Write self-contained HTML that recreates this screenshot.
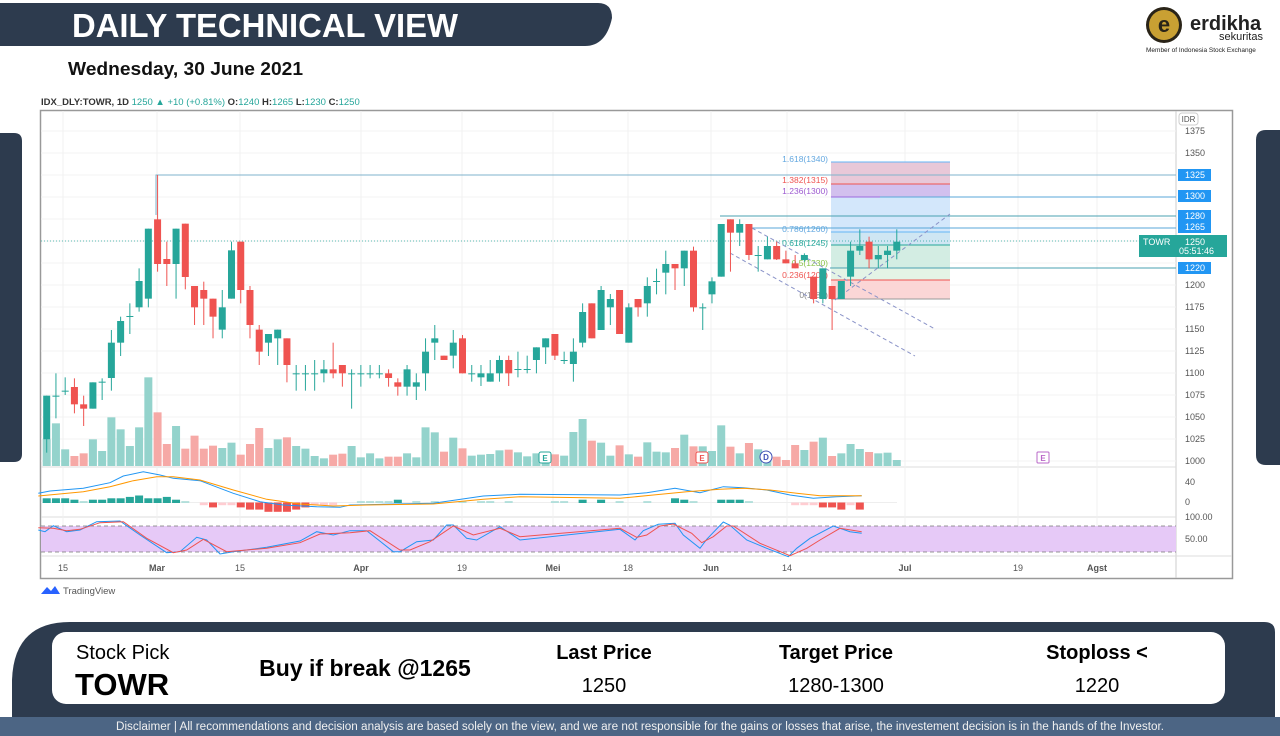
<!DOCTYPE html>
<html><head><meta charset="utf-8">
<style>
*{margin:0;padding:0;box-sizing:border-box}
body{width:1280px;height:736px;background:#fff;position:relative;overflow:hidden;font-family:"Liberation Sans",Arial,sans-serif}
.abs{position:absolute}
</style></head><body>
<svg class="abs" style="left:0;top:0" width="1280" height="736" id="s">
 <path d="M0 3 H598 Q612 3 612 18 Q606 46 585 46 H0 Z" fill="#2d3b4e"/>
 <text x="72" y="37" font-size="33" font-weight="bold" fill="#fff" font-family="Liberation Sans,Arial,sans-serif" textLength="386" lengthAdjust="spacingAndGlyphs">DAILY TECHNICAL VIEW</text>
 <text x="68" y="75" font-size="18" font-weight="bold" fill="#111" font-family="Liberation Sans,Arial,sans-serif" textLength="235" lengthAdjust="spacingAndGlyphs">Wednesday, 30 June 2021</text>
 <circle cx="1164" cy="25" r="18" fill="#2a2418"/>
 <circle cx="1164" cy="25" r="15" fill="#c9a033"/>
 <text x="1164" y="32" font-size="22" font-weight="bold" fill="#2a2418" text-anchor="middle" font-family="Liberation Sans,sans-serif">e</text>
 <text x="1190" y="30" font-size="20" font-weight="bold" fill="#222" font-family="Liberation Sans,sans-serif">erdikha</text>
 <text x="1263" y="40" font-size="11" fill="#222" text-anchor="end" font-family="Liberation Sans,sans-serif">sekuritas</text>
 <text x="1146" y="52" font-size="6.5" fill="#222" font-family="Liberation Sans,sans-serif">Member of Indonesia Stock Exchange</text>
 <path d="M0 133 H14 Q22 133 22 141 V454 Q22 462 14 462 H0Z" fill="#2d3b4e"/>
 <path d="M1280 130 H1266 Q1256 130 1256 140 V455 Q1256 465 1266 465 H1280Z" fill="#2d3b4e"/>
 <text x="41" y="105" font-size="9.5" font-family="Liberation Sans,sans-serif" fill="#333"><tspan font-weight="bold">IDX_DLY:TOWR, 1D</tspan> <tspan fill="#26a69a">1250 ▲ +10 (+0.81%)</tspan> <tspan font-weight="bold">O:</tspan><tspan fill="#26a69a">1240</tspan> <tspan font-weight="bold">H:</tspan><tspan fill="#26a69a">1265</tspan> <tspan font-weight="bold">L:</tspan><tspan fill="#26a69a">1230</tspan> <tspan font-weight="bold">C:</tspan><tspan fill="#26a69a">1250</tspan></text>
 <rect x="40.5" y="110.5" width="1192" height="468" fill="#fff" stroke="#999" stroke-width="1.5"/>
 <line x1="1176" y1="111" x2="1176" y2="578" stroke="#ccc"/>
 <line x1="41" y1="467" x2="1176" y2="467" stroke="#ddd"/>
 <line x1="41" y1="517" x2="1176" y2="517" stroke="#ddd"/>
 <line x1="41" y1="556" x2="1232" y2="556" stroke="#ddd"/>
 <g id="grid"></g>
 <rect x="831" y="162" width="119" height="22" fill="#e8c8d8"/>
 <rect x="831" y="184" width="119" height="13" fill="#d2c0ee"/>
 <rect x="831" y="197" width="119" height="35" fill="#d3e7fb"/>
 <rect x="831" y="232" width="119" height="13" fill="#cfe6f3"/>
 <rect x="831" y="245" width="119" height="23" fill="#d3ede3"/>
 <rect x="831" y="268" width="119" height="12" fill="#e4f4e6"/>
 <rect x="831" y="280" width="119" height="19" fill="#fbd6d6"/>
 <g stroke-width="1">
  <line x1="831" y1="162" x2="950" y2="162" stroke="#64b5f6"/>
  <line x1="831" y1="184" x2="950" y2="184" stroke="#ef5350"/>
  <line x1="831" y1="197" x2="950" y2="197" stroke="#9c6ade"/>
  <line x1="831" y1="232" x2="950" y2="232" stroke="#64b5f6"/>
  <line x1="831" y1="245" x2="950" y2="245" stroke="#26a69a"/>
  <line x1="831" y1="268" x2="950" y2="268" stroke="#66bb6a"/>
  <line x1="831" y1="280" x2="950" y2="280" stroke="#ef5350"/>
  <line x1="831" y1="299" x2="950" y2="299" stroke="#999"/>
 </g>
 <g font-size="8.5" font-family="Liberation Sans,sans-serif" text-anchor="end">
  <text x="828" y="162" fill="#64a8e0">1.618(1340)</text>
  <text x="828" y="183" fill="#ef5350">1.382(1315)</text>
  <text x="828" y="194" fill="#9c5ad0">1.236(1300)</text>
  <text x="828" y="232" fill="#64a8e0">0.786(1260)</text>
  <text x="828" y="246" fill="#26a69a">0.618(1245)</text>
  <text x="828" y="266" fill="#8bc34a">0.5(1230)</text>
  <text x="828" y="278" fill="#ef5350">0.236(1205)</text>
  <text x="828" y="298" fill="#888">0(1185)</text>
 </g>
 <g stroke="#5aa7d8" stroke-width="1">
  <polyline points="156,215 156,175 1176,175" fill="none" stroke="#7fb3cc"/>
  <line x1="880" y1="197" x2="1176" y2="197"/>
  <line x1="720" y1="216" x2="1176" y2="216" stroke="#4aa0b0"/>
  <line x1="752" y1="228" x2="1176" y2="228"/>
  <line x1="830" y1="268" x2="1176" y2="268" stroke="#4aa0b0"/>
 </g>
 <line x1="41" y1="241" x2="1176" y2="241" stroke="#26a69a" stroke-dasharray="1 2" stroke-width="0.8"/>
 <g stroke="#8a93c8" stroke-dasharray="4 3" fill="none">
  <line x1="752" y1="228" x2="935" y2="329"/>
  <line x1="730" y1="253" x2="915" y2="356"/>
  <line x1="835" y1="300" x2="950" y2="214"/>
 </g>
 <g id="vol"></g>
 <g id="cdl"></g>
 <g font-size="8" font-family="Liberation Sans,sans-serif" text-anchor="middle" font-weight="bold">
  <rect x="539" y="452" width="12" height="11" rx="2" fill="#fff" stroke="#26a69a"/><text x="545" y="461" fill="#26a69a">E</text>
  <rect x="696" y="452" width="12" height="11" rx="2" fill="#fff" stroke="#ef5350"/><text x="702" y="461" fill="#ef5350">E</text>
  <circle cx="766" cy="457" r="6" fill="#fff" stroke="#3f51b5"/><text x="766" y="460" fill="#3f51b5">D</text>
  <rect x="1037" y="452" width="12" height="11" rx="1" fill="#fff" stroke="#ba68c8"/><text x="1043" y="461" fill="#ba68c8">E</text>
 </g>
 <line x1="41" y1="502.5" x2="897" y2="502.5" stroke="#eee"/>
 <g id="hist"></g>
 <polyline id="mb" fill="none" stroke="#2196f3" stroke-width="1"/>
 <polyline id="mo" fill="none" stroke="#ff9800" stroke-width="1"/>
 <rect x="41" y="526" width="1135" height="26" fill="#e6c9f7"/>
 <line x1="41" y1="526" x2="1176" y2="526" stroke="#777" stroke-dasharray="4 3" stroke-width="0.7"/>
 <line x1="41" y1="552" x2="1176" y2="552" stroke="#777" stroke-dasharray="4 3" stroke-width="0.7"/>
 <polyline id="sb" fill="none" stroke="#2196f3" stroke-width="1"/>
 <polyline id="sr" fill="none" stroke="#ef5350" stroke-width="1"/>
 <g id="ax" font-size="9" fill="#555" font-family="Liberation Sans,sans-serif"></g>
 <rect x="1179" y="113" width="19" height="12" rx="3" fill="#fff" stroke="#ccc"/>
 <text x="1188.5" y="122" font-size="8" fill="#555" text-anchor="middle" font-family="Liberation Sans,sans-serif">IDR</text>
 <g font-size="9" fill="#fff" font-family="Liberation Sans,sans-serif">
  <rect x="1178" y="169" width="33" height="12" fill="#2196f3"/><text x="1185" y="178">1325</text>
  <rect x="1178" y="190" width="33" height="12" fill="#2196f3"/><text x="1185" y="199">1300</text>
  <rect x="1178" y="210" width="33" height="12" fill="#2196f3"/><text x="1185" y="219">1280</text>
  <rect x="1178" y="221" width="33" height="12" fill="#2196f3"/><text x="1185" y="230">1265</text>
  <rect x="1139" y="235" width="88" height="22" fill="#26a69a"/><text x="1143" y="245">TOWR</text><text x="1185" y="245">1250</text><text x="1179" y="254">05:51:46</text>
  <rect x="1178" y="262" width="33" height="12" fill="#2196f3"/><text x="1185" y="271">1220</text>
 </g>
 <path d="M41 594 L47 587 L51 591 L55 586 L60 594 Z" fill="#2962ff"/>
 <text x="63" y="594" font-size="9.5" fill="#555" font-family="Liberation Sans,sans-serif">TradingView</text>
 <path d="M12 736 V680 Q14 622 70 622 H1264 Q1275 622 1275 632 V736 Z" fill="#2d3b4e"/>
 <rect x="52" y="632" width="1173" height="72" rx="14" fill="#fff"/>
 <rect x="0" y="717" width="1280" height="19" fill="#4c6584"/>
 <text x="640" y="730" font-size="11.5" fill="#f0f0f0" text-anchor="middle" font-family="Liberation Sans,Arial,sans-serif" textLength="1048" lengthAdjust="spacingAndGlyphs">Disclaimer | All recommendations and decision analysis are based solely on the view, and we are not responsible for the gains or losses that arise, the investement  decision is in the hands of the Investor.</text>
 <g font-family="Liberation Sans,Arial,sans-serif" fill="#000">
  <text x="76" y="659" font-size="20">Stock Pick</text>
  <text x="75" y="695" font-size="31" font-weight="bold">TOWR</text>
  <text x="365" y="676" font-size="23" font-weight="bold" text-anchor="middle">Buy if break @1265</text>
  <text x="604" y="659" font-size="20" font-weight="bold" text-anchor="middle">Last Price</text>
  <text x="604" y="692" font-size="20" text-anchor="middle">1250</text>
  <text x="836" y="659" font-size="20" font-weight="bold" text-anchor="middle">Target Price</text>
  <text x="836" y="692" font-size="20" text-anchor="middle">1280-1300</text>
  <text x="1097" y="659" font-size="20" font-weight="bold" text-anchor="middle">Stoploss &lt;</text>
  <text x="1097" y="692" font-size="20" text-anchor="middle">1220</text>
 </g>
</svg>
<script>
var NS="http://www.w3.org/2000/svg";
function el(p,t,a){var e=document.createElementNS(NS,t);for(var k in a)e.setAttribute(k,a[k]);document.getElementById(p).appendChild(e);return e;}
[63,157,240,361,462,553,628,711,787,905,1018,1097].forEach(function(x){el("grid","line",{x1:x,y1:111,x2:x,y2:556,stroke:"#f0f0f0"});});
for(var p=1000;p<=1375;p+=25){var y=131+(1375-p)*0.88;el("grid","line",{x1:41,y1:y,x2:1176,y2:y,stroke:"#f3f3f3"});
 if([1325,1300,1275,1250,1225].indexOf(p)<0){var t=el("ax","text",{x:1185,y:y+3});t.textContent=p;}}
[["40",485],["0",505],["100.00",520],["50.00",542]].forEach(function(a){var t=el("ax","text",{x:1185,y:a[1]});t.textContent=a[0];});
[["15",63],["Mar",157],["15",240],["Apr",361],["19",462],["Mei",553],["18",628],["Jun",711],["14",787],["Jul",905],["19",1018],["Agst",1097]].forEach(function(a){var t=el("ax","text",{x:a[1],y:571,"text-anchor":"middle","font-weight":(isNaN(a[0])?"bold":"normal")});t.textContent=a[0];});
var A=[[677,808,677,848,'g'],[677,677,610,745,'g'],[662,662,622,675,'g'],[651,703,625,730,'r'],[703,716,677,768,'r'],[637,716,637,716,'g'],[635,635,625,690,'g'],[518,624,480,662,'g'],[453,518,440,558,'g'],[438,438,400,492,'g'],[333,412,295,425,'g'],[176,386,176,412,'g'],[148,282,15,305,'r'],[267,282,215,348,'r'],[176,282,176,386,'g'],[161,321,161,358,'r'],[348,412,348,465,'r'],[360,386,335,465,'r'],[386,440,386,505,'r'],[412,479,360,505,'g'],[241,386,215,386,'g'],[215,360,215,400,'r'],[360,465,348,505,'r'],[479,545,465,585,'r'],[492,518,492,558,'g'],[479,505,479,585,'g'],[505,585,505,637,'r'],[610,610,585,662,'g'],[610,610,585,662,'g'],[610,610,570,662,'g'],[598,610,570,637,'g'],[598,610,518,625,'r'],[585,610,585,650,'r'],[610,610,598,716,'g'],[610,610,585,650,'g'],[610,610,585,625,'g'],[610,610,585,625,'g'],[610,624,598,650,'r'],[637,650,625,677,'r'],[598,650,585,677,'g'],[637,650,610,690,'g'],[545,610,505,662,'g'],[505,518,465,570,'g']];
var B=[[467,480,467,480,'r'],[428,467,390,505,'g'],[415,520,405,520,'r'],[520,520,495,545,'g'],[520,532,495,558,'g'],[520,545,480,545,'g'],[480,520,467,545,'g'],[480,520,467,558,'r'],[507,507,455,532,'g'],[507,507,467,520,'g'],[442,480,442,520,'g'],[415,442,415,492,'g'],[402,467,402,480,'r'],[480,480,455,492,'g'],[455,492,415,545,'g'],[336,428,310,442,'g'],[310,415,310,415,'r'],[270,390,258,390,'g'],[297,322,282,375,'g'],[270,402,270,402,'r'],[322,428,310,428,'g'],[297,322,297,350,'r'],[258,310,232,350,'g'],[243,243,206,283,'g'],[192,218,152,283,'g'],[192,205,192,270,'r'],[152,205,152,258,'g'],[152,322,140,335,'r'],[322,322,310,390,'g'],[244,283,232,310,'g'],[72,230,72,230,'g'],[58,98,58,215,'r'],[72,98,58,138,'g'],[72,165,72,180,'r'],[165,165,138,215,'g'],[138,178,110,178,'g'],[138,178,125,180,'r'],[178,190,152,190,'r'],[190,205,165,205,'r'],[165,180,160,185,'g'],[230,297,230,310,'r'],[205,297,205,310,'g'],[258,297,258,390,'r'],[243,297,243,297,'g'],[152,230,125,258,'g'],[138,152,88,165,'g'],[125,178,110,205,'r'],[165,178,138,205,'g'],[152,165,138,205,'g'],[125,152,88,178,'g']];
var C=[];A.forEach(function(c){C.push([170+c[0]/3,170+c[1]/3,170+c[2]/3,170+c[3]/3,c[4]]);});
B.forEach(function(c){C.push([200+c[0]/3,200+c[1]/3,200+c[2]/3,200+c[3]/3,c[4]]);});
var VA=[808,760,838,858,850,808,843,742,778,828,772,622,727,822,768,836,797,836,827,834,818,854,822,774,834,808,802,828,836,858,865,854,851,828,862,850,865,860,860,850,862,772,787];
var VB=[755,713,745,767,764,762,751,749,757,769,760,762,763,767,696,657,722,728,767,736,763,770,727,755,757,744,704,739,739,753,676,740,760,729,748,760,770,780,735,750,725,713,768,760,732,747,756,760,758,780];
var V=[];VA.forEach(function(v){V.push(170+v/3);});VB.forEach(function(v){V.push(200+v/3);});
C.forEach(function(c,i){var x=46.7+i*9.24,g=c[4]=='g';
 if(V[i]!==undefined)el("vol","rect",{x:x-4,y:V[i],width:8,height:Math.max(0,466-V[i]),fill:g?"#94d3cc":"#f6a9a6"});
 var col=g?"#26a69a":"#ef5350";
 el("cdl","line",{x1:x,y1:c[2],x2:x,y2:c[3],stroke:col,"stroke-width":1});
 el("cdl","rect",{x:x-3.5,y:c[0],width:7,height:Math.max(1,c[1]-c[0]),fill:col});});
var H=[[0,-3],[1,-3],[2,-3],[3,-2],[4,-1],[5,-2],[6,-2],[7,-3],[8,-3],[9,-4],[10,-5],[11,-3],[12,-3],[13,-4],[14,-2],[15,-1],[17,1],[18,2],[19,1],[20,1],[21,2],[22,3],[23,3],[24,4],[25,4],[26,4],[27,3],[28,2],[29,1],[30,1],[31,1],[34,-1],[35,-1],[36,-1],[37,-1],[38,-2],[40,-1],[42,-1],[45,-1],[47,-1],[48,-1],[50,-1],[55,-1],[56,-1],[58,-2],[60,-2],[62,-1],[65,-1],[68,-3],[69,-2],[70,-1],[73,-2],[74,-2],[75,-2],[76,-1],[81,1],[82,1],[83,1],[84,2],[85,2],[86,3],[87,1],[88,3]];
H.forEach(function(h){var x=46.7+h[0]*9.24,v=h[1];var g=v<0;var dark=Math.abs(v)>=2;var s=g?1.4:2.2;
 el("hist","rect",{x:x-4,y:v<0?502.5+v*s:502.5,width:8,height:Math.abs(v)*s+0.5,fill:g?(dark?"#26a69a":"#b2dfdb"):(dark?"#ef5350":"#ffcdd2")});});
function pts(a,ox,oy){return a.map(function(p){return (ox+p[0]/3).toFixed(1)+","+(oy+p[1]/3).toFixed(1);}).join(" ");}
var mb=pts([[115,100],[150,93],[250,85],[330,68],[370,48],[430,35],[480,45],[520,55],[600,62],[700,100],[780,125],[850,135],[950,140],[1020,142],[1050,135],[1150,133],[1300,130],[1450,108],[1560,103]],0,460)+" "+pts([[0,105],[80,98],[165,85],[240,98],[310,80],[370,83],[440,90],[510,105],[580,115],[650,110],[725,107]],620,460);
var mo=pts([[115,108],[250,95],[330,80],[400,62],[470,50],[520,50],[600,60],[700,90],[800,118],[900,132],[1000,138],[1100,135],[1300,132],[1450,118],[1560,110]],0,460)+" "+pts([[0,115],[100,105],[200,95],[300,88],[370,85],[450,90],[530,100],[600,107],[725,107]],620,460);
document.getElementById("mb").setAttribute("points",mb);document.getElementById("mo").setAttribute("points",mo);
var sb=pts([[115,210],[135,215],[160,197],[200,215],[240,210],[290,185],[360,183],[420,225],[500,278],[540,275],[590,232],[620,240],[660,282],[700,275],[800,262],[900,243],[950,215],[1000,225],[1050,212],[1100,212],[1180,275],[1200,275],[1250,245],[1300,240],[1340,195],[1360,195],[1400,235],[1430,240],[1500,200],[1560,240]],0,460)+" "+pts([[0,208],[45,240],[70,212],[115,193],[165,190],[190,225],[240,265],[260,238],[310,186],[330,196],[380,240],[440,265],[505,290],[530,265],[570,235],[640,198],[690,215],[725,220]],620,460);
var sr=pts([[115,203],[160,205],[200,212],[240,208],[300,188],[370,185],[440,235],[520,278],[560,270],[610,238],[680,275],[800,265],[900,248],[960,222],[1050,218],[1110,212],[1200,270],[1230,270],[1290,245],[1360,198],[1420,225],[1500,205],[1560,230]],0,460)+" "+pts([[0,205],[50,232],[80,225],[120,198],[160,192],[215,220],[245,248],[280,230],[320,198],[340,198],[420,250],[510,287],[560,265],[600,240],[660,205],[725,215]],620,460);
document.getElementById("sb").setAttribute("points",sb);document.getElementById("sr").setAttribute("points",sr);
</script>
</body></html>
